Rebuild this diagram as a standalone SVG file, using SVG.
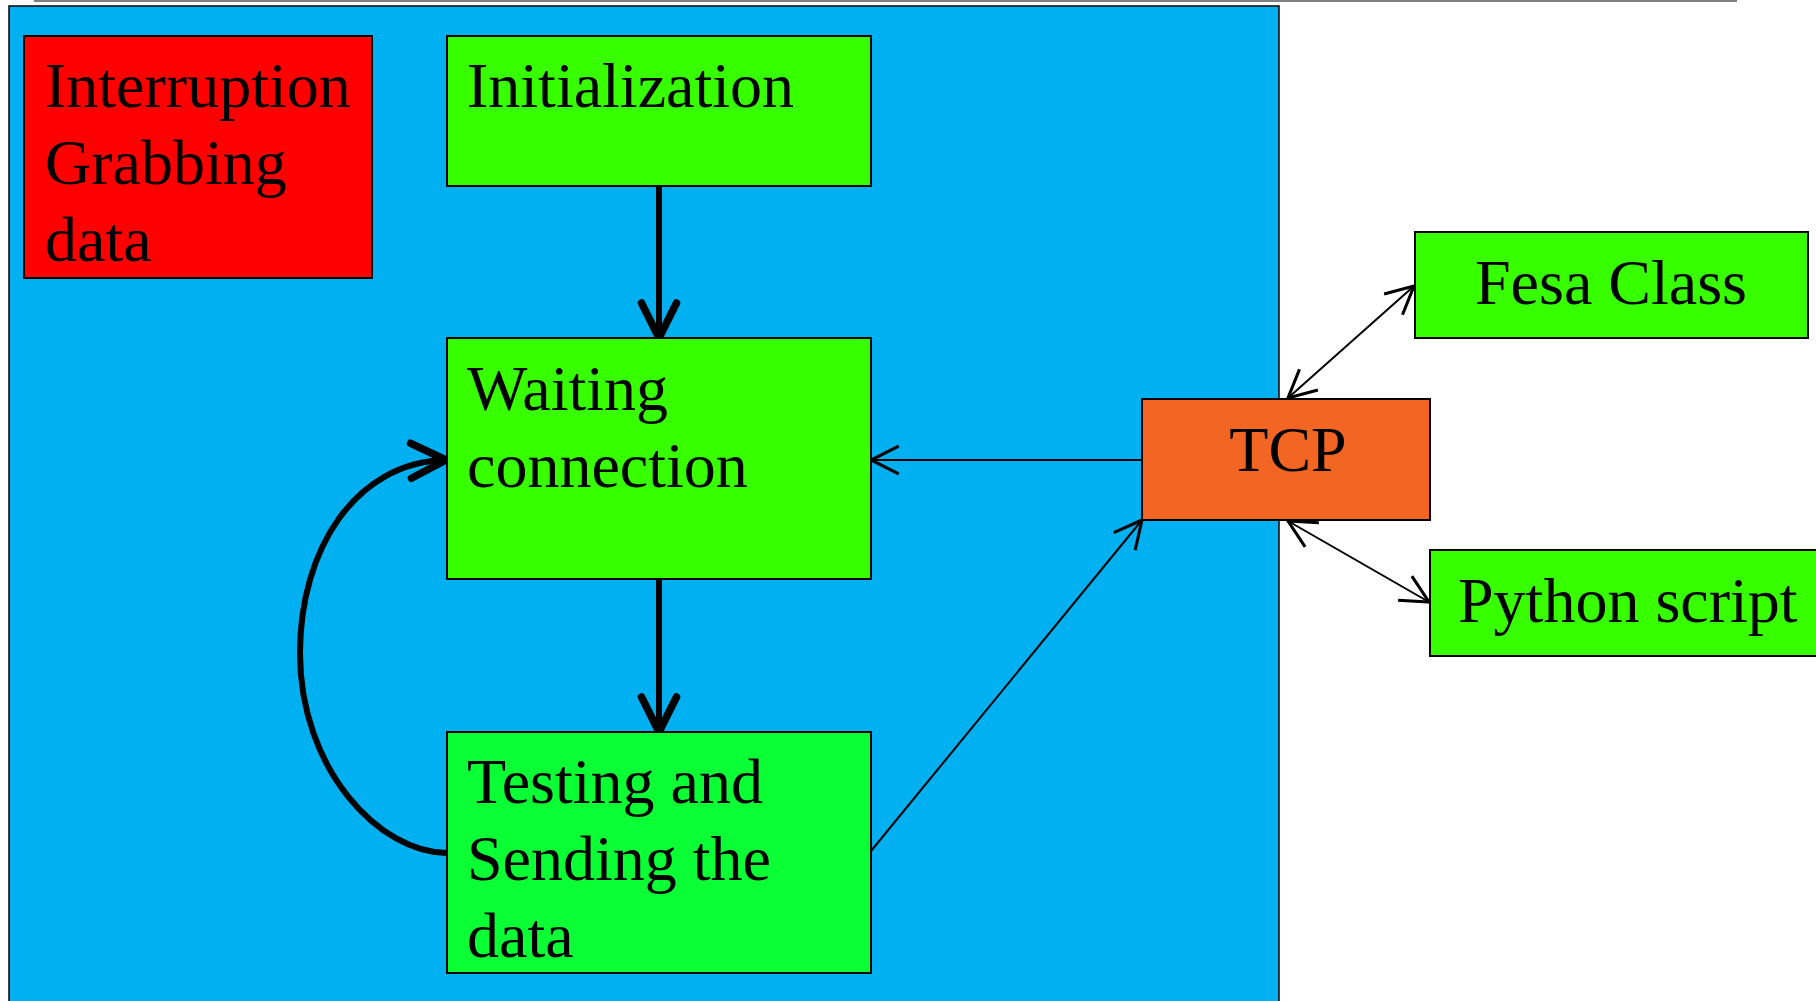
<svg xmlns="http://www.w3.org/2000/svg" width="1816" height="1001" viewBox="0 0 1816 1001">
  <style>
    .box { stroke: #000; stroke-width: 2; }
    .lbl { font-family: "Liberation Serif", "Times New Roman", serif; font-size: 64px; fill: #000; }
    .thin { fill: none; stroke: #000; stroke-width: 2; }
    .thick { fill: none; stroke: #000; stroke-width: 6; }
  </style>
  <defs>
    <marker id="openHead" markerUnits="userSpaceOnUse" markerWidth="40" markerHeight="40" viewBox="-22 -12 26 24" refX="0" refY="0" orient="auto-start-reverse">
      <path d="M-18,-9 L0,0 L-18,9" fill="none" stroke="#000" stroke-width="2"/>
    </marker>
    <marker id="boldHead" markerUnits="userSpaceOnUse" markerWidth="50" markerHeight="50" viewBox="-34 -20 40 40" refX="0" refY="0" orient="auto">
      <path d="M-28,-14 L0,0 L-28,14" fill="none" stroke="#000" stroke-width="6" stroke-linecap="round" stroke-linejoin="round"/>
    </marker>
  </defs>

  <rect width="1816" height="1001" fill="#fff"/>
  <!-- rule under the page heading -->
  <line x1="34" y1="1" x2="1737" y2="1" stroke="#7f7f7f" stroke-width="2"/>

  <!-- embedded-side panel -->
  <rect id="panel" x="9" y="6" width="1270" height="1010" fill="#00b0f0" stroke="#000" stroke-width="1.5"/>

  <g id="connectors">
    <line class="thick" x1="659" y1="186" x2="659" y2="338" marker-end="url(#boldHead)"/>
    <line class="thick" x1="659" y1="579" x2="659" y2="732" marker-end="url(#boldHead)"/>
    <path class="thick" d="M447,853 C380,853 300,770 300,653 C300,550 355,462 446,460" marker-end="url(#boldHead)"/>
    <line class="thin" x1="1142" y1="460" x2="871" y2="460" marker-end="url(#openHead)"/>
    <line class="thin" x1="871" y1="851" x2="1142" y2="520" marker-end="url(#openHead)"/>
    <line class="thin" x1="1288" y1="398" x2="1414" y2="286" marker-start="url(#openHead)" marker-end="url(#openHead)"/>
    <line class="thin" x1="1288" y1="521" x2="1429" y2="602" marker-start="url(#openHead)" marker-end="url(#openHead)"/>
  </g>

  <g id="interruption">
    <rect class="box" x="24" y="36" width="348" height="242" fill="#ff0000"/>
    <text class="lbl" x="45" y="107">Interruption</text>
    <text class="lbl" x="45" y="184">Grabbing</text>
    <text class="lbl" x="45" y="261">data</text>
  </g>

  <g id="initialization">
    <rect class="box" x="447" y="36" width="424" height="150" fill="#38ff00"/>
    <text class="lbl" x="467" y="107">Initialization</text>
  </g>

  <g id="waiting">
    <rect class="box" x="447" y="338" width="424" height="241" fill="#38ff00"/>
    <text class="lbl" x="467" y="410">Waiting</text>
    <text class="lbl" x="467" y="487">connection</text>
  </g>

  <g id="testing">
    <rect class="box" x="447" y="732" width="424" height="241" fill="#0aff35"/>
    <text class="lbl" x="467" y="803">Testing and</text>
    <text class="lbl" x="467" y="880">Sending the</text>
    <text class="lbl" x="467" y="957">data</text>
  </g>

  <g id="tcp">
    <rect class="box" x="1142" y="399" width="288" height="121" fill="#f26522"/>
    <text class="lbl" x="1288" y="471" text-anchor="middle">TCP</text>
  </g>

  <g id="fesa">
    <rect class="box" x="1415" y="232" width="393" height="106" fill="#38ff00"/>
    <text class="lbl" x="1611" y="304" text-anchor="middle">Fesa Class</text>
  </g>

  <g id="python">
    <rect class="box" x="1430" y="550" width="400" height="106" fill="#38ff00"/>
    <text class="lbl" x="1458" y="622">Python script</text>
  </g>
</svg>
